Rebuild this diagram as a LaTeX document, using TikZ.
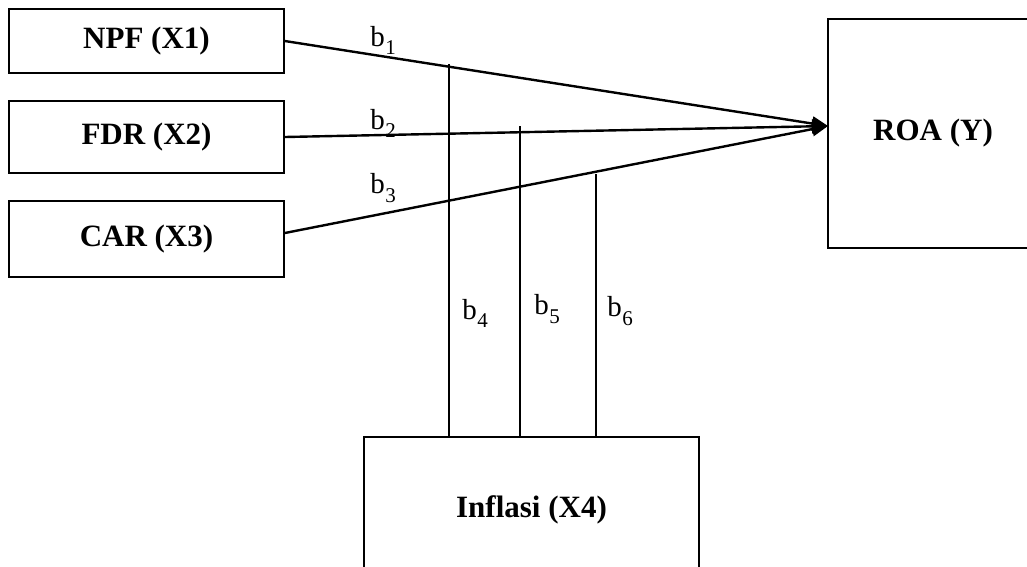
\documentclass[tikz,border=0pt]{standalone}
\usepackage{fontspec}
\setmainfont{Liberation Serif}
\usetikzlibrary{arrows.meta}
\newcommand{\bsub}[1]{b\kern0.5pt\raisebox{-0.28em}{\fontsize{21}{21}\selectfont #1}}
\begin{document}
\begin{tikzpicture}[x=1pt,y=-1pt,
  var/.style={draw=black,line width=1.6pt,font=\fontsize{31}{36}\selectfont\bfseries,inner sep=0pt},
  path/.style={line width=2.4pt,-{Triangle[length=16pt,width=14pt]}},
  mod/.style={line width=1.6pt},
  lab/.style={font=\fontsize{29}{32}\selectfont,inner sep=0pt}]
\useasboundingbox (0,0) rectangle (1027,566);
\node[var,minimum width=275pt,minimum height=64pt] (npf) at (146.5,41) {NPF (X1)};
\node[var,minimum width=275pt,minimum height=72pt] (fdr) at (146.5,137) {FDR (X2)};
\node[var,minimum width=275pt,minimum height=76pt] (car) at (146.5,239) {CAR (X3)};
\node[var,minimum width=210pt,minimum height=229pt] (roa) at (933,133.5) {ROA (Y)};
\node[var,minimum width=335pt,minimum height=146pt] (inf) at (531.5,510) {Inflasi (X4)};
\coordinate (tip) at (828,126);
\coordinate (v4) at (449,64);
\coordinate (v5) at (520,126);
\coordinate (v6) at (596,174);
\draw[path] (npf.east) -- (tip);
\draw[path] (fdr.east) -- (tip);
\draw[path] ([yshift=6pt]car.east) -- (tip);
\draw[mod] (inf.north -| v4) -- (v4);
\draw[mod] (inf.north -| v5) -- (v5);
\draw[mod] (inf.north -| v6) -- (v6);
\node[lab] (l1) at (383,40) {\bsub{1}};
\node[lab] (l2) at (383,123) {\bsub{2}};
\node[lab] (l3) at (383,188) {\bsub{3}};
\node[lab] (l4) at (475,313) {\bsub{4}};
\node[lab] (l5) at (547,309) {\bsub{5}};
\node[lab] (l6) at (620,311) {\bsub{6}};
\end{tikzpicture}
\end{document}
